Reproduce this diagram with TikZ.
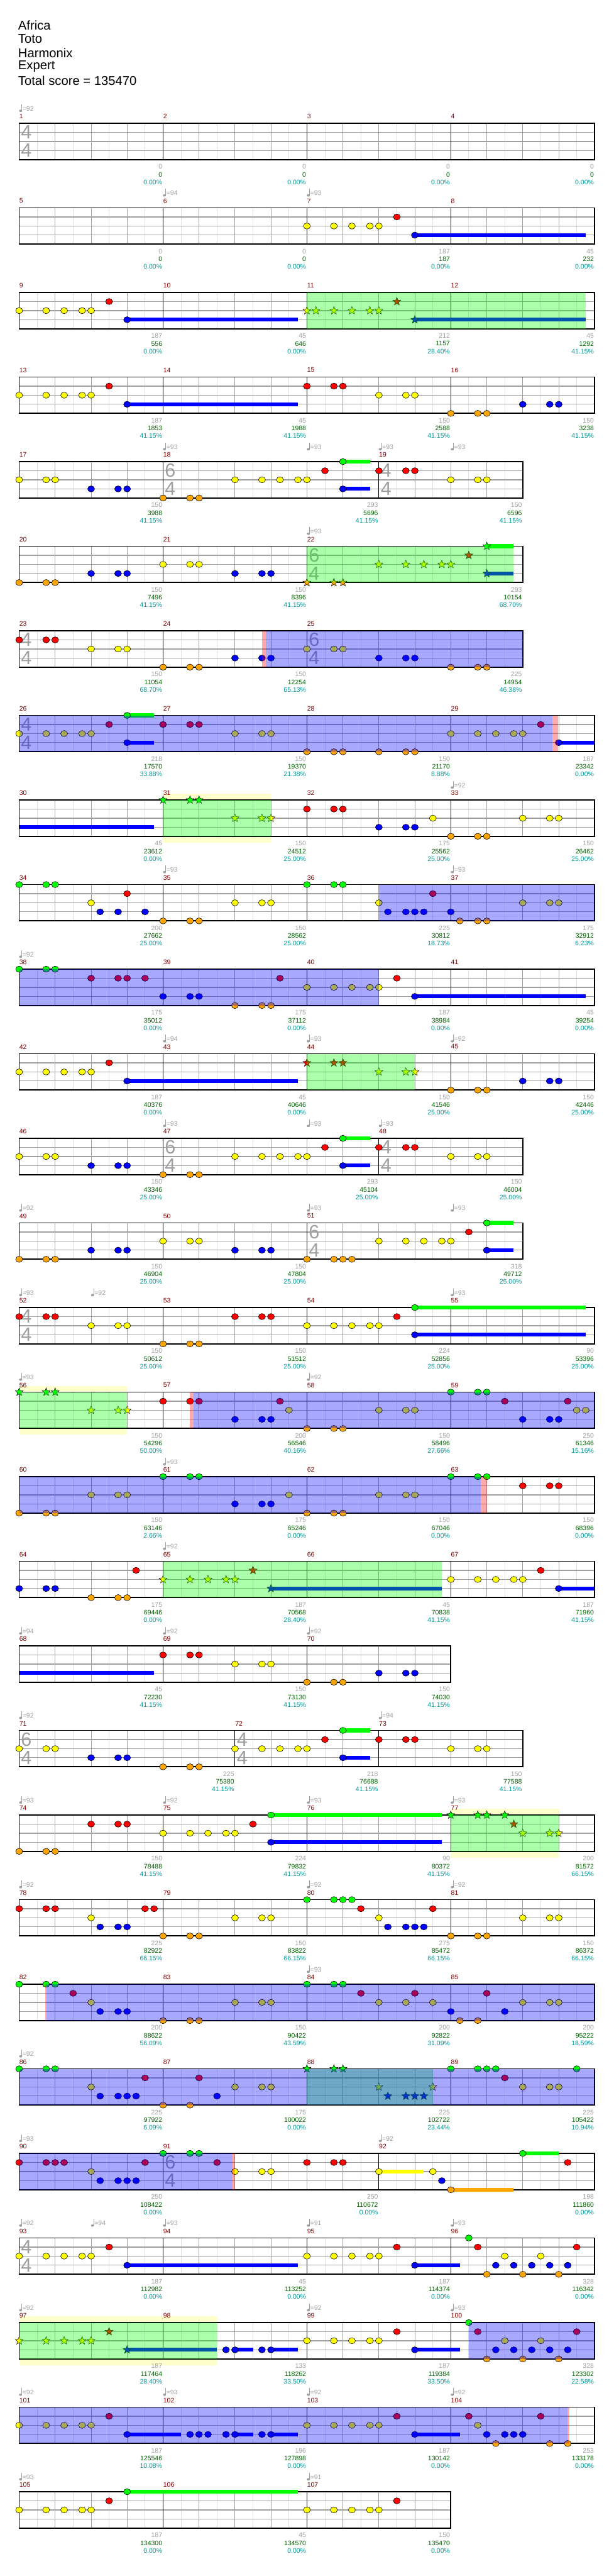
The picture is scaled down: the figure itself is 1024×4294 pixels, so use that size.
\documentclass[tikz,border=0pt]{standalone}
\usepackage{fontspec}
\setmainfont{Liberation Sans}
\usetikzlibrary{shapes.geometric}
\definecolor{gem0}{HTML}{00FF00}
\definecolor{gem1}{HTML}{FF0000}
\definecolor{gem2}{HTML}{FFFF00}
\definecolor{gem3}{HTML}{0000FF}
\definecolor{gem4}{HTML}{FFA500}
\definecolor{barred}{HTML}{800000}
\definecolor{softgray}{HTML}{A0A0A0}
\definecolor{gridlight}{HTML}{E0E0E0}
\definecolor{scoregreen}{HTML}{006400}
\definecolor{pctteal}{HTML}{009999}
\definecolor{soloyellow}{HTML}{FFFFCC}

\newcommand\smallfont{\fontsize{5.5pt}{6pt}\selectfont}

% staff with grid, bar lines and measure numbers
\newcommand\staff[2]{%
  \fill[white] (0,0) rectangle (#1,4);
  \pgfmathtruncatemacro\wlast{#1-1}
  \foreach \i in {0,...,\wlast} \draw[halfline] (\i+0.5,0) -- (\i+0.5,4);
  \foreach \i in {1,...,\wlast} \draw[beatline] (\i,0) -- (\i,4);
  \foreach \kk in {1,2,3} \draw[laneline] (0,\kk) -- (#1,\kk);
  \foreach \xb/\mn in {#2} {
    \draw[barline] (\xb,0) -- (\xb,4);
    \node[mnum] at (\xb,-0.77) {\mn};
  }
  \draw[border] (0,0) rectangle (#1,4);
}
\newcommand\tsig[2]{%
  \node[tsnum] at ([xshift=6pt]#1,1) {#2};
  \node[tsnum] at ([xshift=6pt]#1,3) {4};
}
\newcommand\tempo[1]{\foreach \xb/\tv in {#1} {
  \fill[softgray] ([xshift=1.2pt]\xb,-1.37) ellipse (1.3pt and 1pt);
  \draw[softgray,line width=0.5pt] ([xshift=2.3pt]\xb,-1.37) -- ([xshift=2.3pt]\xb,-2.09);
  \node[tempotxt] at ([xshift=2.6pt]\xb,-1.63) {=\tv};
}}
\newcommand\scores[1]{\foreach \mend/\sgr/\stot/\spc in {#1} {
  \node[sgray] at (\mend,4.77) {\sgr};
  \node[sgreen] at (\mend,5.63) {\stot};
  \node[spct] at (\mend,6.49) {\spc\%};
}}
\newcommand\gems[2]{\foreach \xb in {#2} \node[gem,fill=gem#1] at (\xb,#1) {};}
\newcommand\stars[2]{\foreach \xb in {#2} \node[starnote,fill=gem#1] at (\xb,#1) {};}
\newcommand\sus[3]{\fill[gem#1] (#2,#1-0.21) rectangle (#3,#1+0.21);}
\newcommand\spphrase[2]{\fill[spgreen] (#1,0) rectangle (#2,4);}
\newcommand\spact[2]{\fill[spblue] (#1,0) rectangle (#2,4);}
\newcommand\spedge[2]{\fill[sppink] (#1,0) rectangle (#2,4);}
\newcommand\solo[2]{\fill[soloyellow] (#1,-0.66) rectangle (#2,4.7);}

\begin{document}
\begin{tikzpicture}[
		x=0.5pt,
		y=-0.5pt,
		chartrow/.style={shift={(32,205.5+141*(#1-1))},x=30pt,y=-7.575pt},
		gem/.style={ellipse,draw=black,line width=0.3pt,inner sep=0pt,minimum width=5.8pt,minimum height=5.1pt},
		starnote/.style={star,star points=5,star point ratio=2.3,draw=black,line width=0.25pt,inner sep=0pt,minimum size=7pt},
		halfline/.style={draw=gridlight,line width=0.5pt},
		beatline/.style={draw=softgray,line width=0.5pt},
		laneline/.style={draw=softgray,line width=0.6pt},
		barline/.style={draw=black,line width=0.5pt},
		border/.style={draw=black,line width=1pt},
		mnum/.style={anchor=west,inner sep=0pt,text=barred,font=\smallfont},
		tempotxt/.style={anchor=west,inner sep=0pt,text=softgray,font=\smallfont},
		tsnum/.style={inner sep=0pt,text=softgray,font=\fontsize{16pt}{16pt}\selectfont},
		sgray/.style={anchor=east,inner sep=0pt,xshift=-0.5pt,text=softgray,font=\smallfont},
		sgreen/.style={anchor=east,inner sep=0pt,xshift=-0.5pt,text=scoregreen,font=\smallfont},
		spct/.style={anchor=east,inner sep=0pt,xshift=-0.5pt,text=pctteal,font=\smallfont},
		spgreen/.style={fill=gem0,fill opacity=0.33},
		spblue/.style={fill=gem3,fill opacity=0.34},
		sppink/.style={fill=gem1,fill opacity=0.33},
		titletxt/.style={anchor=west,inner sep=0pt,font=\fontsize{10.6pt}{12pt}\selectfont}
	]
	
	% Page
	\useasboundingbox (0,0) rectangle (1024,4294);
	\fill[white] (0,0) rectangle (1024,4294);
	
	% Header
	\node[titletxt] (song) at (30,41.7) {Africa};
	\node[titletxt] (artist) at (30,65) {Toto};
	\node[titletxt] (charter) at (30,88) {Harmonix};
	\node[titletxt] (level) at (30,111) {Expert};
	\node[titletxt] (total) at (30,134) {Total score = 135470};
	
	% Row 1: measures 1-4
	\begin{scope}[chartrow=1]
		\staff{16}{0/1,4/2,8/3,12/4}
		\tsig{0}{4}
		\tempo{0/92}
		\scores{4/0/0/0.00,8/0/0/0.00,12/0/0/0.00,16/0/0/0.00}
	\end{scope}
	
	% Row 2: measures 5-8
	\begin{scope}[chartrow=2]
		\staff{16}{0/5,4/6,8/7,12/8}
		\tempo{4/94,8/93}
		\sus{3}{11}{15.75}
		\gems{2}{8,8.75,9.25,9.75,10}
		\gems{1}{10.5}
		\gems{3}{11}
		\scores{4/0/0/0.00,8/0/0/0.00,12/187/187/0.00,16/45/232/0.00}
	\end{scope}
	
	% Row 3: measures 9-12
	\begin{scope}[chartrow=3]
		\staff{16}{0/9,4/10,8/11,12/12}
		\sus{3}{3}{7.75}
		\gems{2}{0,0.75,1.25,1.75,2}
		\gems{1}{2.5}
		\gems{3}{3}
		\sus{3}{11}{15.75}
		\stars{2}{8,8.25,8.75,9.25,9.75,10}
		\stars{1}{10.5}
		\stars{3}{11}
		\spphrase{8}{15.75}
		\scores{4/187/556/0.00,8/45/646/0.00,12/212/1157/28.40,16/45/1292/41.15}
	\end{scope}
	
	% Row 4: measures 13-16
	\begin{scope}[chartrow=4]
		\staff{16}{0/13,4/14,8/15,12/16}
		\sus{3}{3}{7.75}
		\gems{2}{0,0.75,1.25,1.75,2,10,10.75,11}
		\gems{1}{2.5,8,8.75,9}
		\gems{3}{3,14,14.75,15}
		\gems{4}{12,12.75,13}
		\scores{4/187/1853/41.15,8/45/1988/41.15,12/150/2588/41.15,16/150/3238/41.15}
	\end{scope}
	
	% Row 5: measures 17-19
	\begin{scope}[chartrow=5]
		\staff{14}{0/17,4/18,10/19}
		\tsig{4}{6}\tsig{10}{4}
		\tempo{4/93,8/93,10/93,12/93}
		\sus{0}{9}{9.75}\sus{3}{9}{9.75}
		\gems{2}{0,0.75,1,6,6.75,7.25,7.75,8,12,12.75,13}
		\gems{3}{2,2.75,3,9}
		\gems{4}{4,4.75,5}
		\gems{1}{8.5,10,10.75,11}
		\gems{0}{9}
		\scores{4/150/3988/41.15,10/293/5696/41.15,14/150/6596/41.15}
	\end{scope}
	
	% Row 6: measures 20-22
	\begin{scope}[chartrow=6]
		\staff{14}{0/20,4/21,8/22}
		\tsig{8}{6}
		\tempo{8/93}
		\gems{4}{0,0.75,1}
		\gems{3}{2,2.75,3,6,6.75,7}
		\gems{2}{4,4.75,5}
		\sus{0}{13}{13.75}\sus{3}{13}{13.75}
		\stars{4}{8,8.75,9}
		\stars{2}{10,10.75,11.25,11.75,12}
		\stars{1}{12.5}
		\stars{0}{13}\stars{3}{13}
		\spphrase{8}{13.75}
		\scores{4/150/7496/41.15,8/150/8396/41.15,14/293/10154/68.70}
	\end{scope}
	
	% Row 7: measures 23-25
	\begin{scope}[chartrow=7]
		\staff{14}{0/23,4/24,8/25}
		\tsig{0}{4}\tsig{8}{6}
		\gems{1}{0,0.75,1}
		\gems{2}{2,2.75,3,8,8.75,9}
		\gems{4}{4,4.75,5,12,12.75,13}
		\gems{3}{6,6.75,7,10,10.75,11}
		\spedge{6.75}{6.85}\spact{6.85}{14}
		\scores{4/150/11054/68.70,8/150/12254/65.13,14/225/14954/46.38}
	\end{scope}
	
	% Row 8: measures 26-29
	\begin{scope}[chartrow=8]
		\staff{16}{0/26,4/27,8/28,12/29}
		\tsig{0}{4}
		\sus{0}{3}{3.75}\sus{3}{3}{3.75}\sus{3}{15}{16}
		\gems{2}{0,0.75,1.25,1.75,2,6,6.75,7,12,12.75,13.25,13.75,14}
		\gems{1}{2.5,4,4.75,5,14.5}
		\gems{0}{3}
		\gems{3}{3,15}
		\gems{4}{8,8.75,9,10,10.75,11}
		\spact{0}{14.82}\spedge{14.82}{14.98}
		\scores{4/218/17570/33.88,8/150/19370/21.38,12/150/21170/8.88,16/187/23342/0.00}
	\end{scope}
	
	% Row 9: measures 30-33
	\begin{scope}[chartrow=9]
		\solo{4}{7}
		\staff{16}{0/30,4/31,8/32,12/33}
		\tempo{12/92}
		\sus{3}{0}{3.75}
		\stars{0}{4,4.75,5}
		\stars{2}{6,6.75,7}
		\spphrase{4}{7}
		\gems{1}{8,8.75,9}
		\gems{3}{10,10.75,11}
		\gems{2}{11.5,14,14.75,15}
		\gems{4}{12,12.75,13}
		\scores{4/45/23612/0.00,8/150/24512/25.00,12/175/25562/25.00,16/150/26462/25.00}
	\end{scope}
	
	% Row 10: measures 34-37
	\begin{scope}[chartrow=10]
		\staff{16}{0/34,4/35,8/36,12/37}
		\tempo{4/93,12/93}
		\gems{0}{0,0.75,1,8,8.75,9}
		\gems{2}{2,6,6.75,7,10,14,14.75,15}
		\gems{3}{2.25,2.75,3.5,10.25,10.75,11,11.25,12}
		\gems{1}{3,11.5}
		\gems{4}{4,4.75,5,12.25,12.75,13}
		\spact{10}{16}
		\scores{4/200/27662/25.00,8/150/28562/25.00,12/225/30812/18.73,16/175/32912/6.23}
	\end{scope}
	
	% Row 11: measures 38-41
	\begin{scope}[chartrow=11]
		\staff{16}{0/38,4/39,8/40,12/41}
		\tempo{0/92}
		\sus{3}{11}{15.75}
		\gems{0}{0,0.75,1}
		\gems{1}{2,2.75,3,3.5,7.25,10.5}
		\gems{3}{4,4.75,5,11}
		\gems{4}{6,6.75,7}
		\gems{2}{8,8.75,9.25,9.75,10}
		\spact{0}{10}
		\scores{4/175/35012/0.00,8/175/37112/0.00,12/187/38984/0.00,16/45/39254/0.00}
	\end{scope}
	
	% Row 12: measures 42-45
	\begin{scope}[chartrow=12]
		\staff{16}{0/42,4/43,8/44,12/45}
		\tempo{4/94,8/93,12/92}
		\sus{3}{3}{7.75}
		\gems{2}{0,0.75,1.25,1.75,2}
		\gems{1}{2.5}
		\gems{3}{3,14,14.75,15}
		\stars{1}{8,8.75,9}
		\stars{2}{10,10.75,11}
		\spphrase{8}{11}
		\gems{4}{12,12.75,13}
		\scores{4/187/40376/0.00,8/45/40646/0.00,12/150/41546/25.00,16/150/42446/25.00}
	\end{scope}
	
	% Row 13: measures 46-48
	\begin{scope}[chartrow=13]
		\staff{14}{0/46,4/47,10/48}
		\tsig{4}{6}\tsig{10}{4}
		\tempo{4/93,8/93,10/93}
		\sus{0}{9}{9.75}\sus{3}{9}{9.75}
		\gems{2}{0,0.75,1,6,6.75,7.25,7.75,8,12,12.75,13}
		\gems{3}{2,2.75,3,9}
		\gems{4}{4,4.75,5}
		\gems{1}{8.5,10,10.75,11}
		\gems{0}{9}
		\scores{4/150/43346/25.00,10/293/45104/25.00,14/150/46004/25.00}
	\end{scope}
	
	% Row 14: measures 49-51
	\begin{scope}[chartrow=14]
		\staff{14}{0/49,4/50,8/51}
		\tsig{8}{6}
		\tempo{0/92,8/93,12/93}
		\sus{0}{13}{13.75}\sus{3}{13}{13.75}
		\gems{4}{0,0.75,1,8,8.75,9,9.25}
		\gems{3}{2,2.75,3,6,6.75,7,13}
		\gems{2}{4,4.75,5,10,10.75,11.25,11.75,12}
		\gems{1}{12.5}
		\gems{0}{13}
		\scores{4/150/46904/25.00,8/150/47804/25.00,14/318/49712/25.00}
	\end{scope}
	
	% Row 15: measures 52-55
	\begin{scope}[chartrow=15]
		\staff{16}{0/52,4/53,8/54,12/55}
		\tsig{0}{4}
		\tempo{0/93,2/92,12/93}
		\sus{0}{11}{15.75}\sus{3}{11}{15.75}
		\gems{1}{0,0.75,1,6,6.75,7,10.5}
		\gems{2}{2,2.75,3,8,8.75,9.25,9.75,10}
		\gems{4}{4,4.75,5}
		\gems{0}{11}\gems{3}{11}
		\scores{4/150/50612/25.00,8/150/51512/25.00,12/224/52856/25.00,16/90/53396/25.00}
	\end{scope}
	
	% Row 16: measures 56-59
	\begin{scope}[chartrow=16]
		\solo{0}{3}
		\staff{16}{0/56,4/57,8/58,12/59}
		\tempo{0/93,8/92}
		\stars{0}{0,0.75,1}
		\stars{2}{2,2.75,3}
		\spphrase{0}{3}
		\gems{1}{4,4.75,5,7.25,13.5,15.25}
		\gems{3}{6,6.75,7,14,14.75,15}
		\gems{2}{7.5,10,10.75,11,15.5,15.75}
		\gems{4}{8,8.75,9}
		\gems{0}{12,12.75,13}
		\spedge{4.75}{4.85}\spact{4.85}{16}
		\scores{4/150/54296/50.00,8/200/56546/40.16,12/150/58496/27.66,16/250/61346/15.16}
	\end{scope}
	
	% Row 17: measures 60-63
	\begin{scope}[chartrow=17]
		\staff{16}{0/60,4/61,8/62,12/63}
		\tempo{4/93}
		\gems{4}{0,0.75,1,8,8.75,9}
		\gems{2}{2,2.75,3,7.5,10,10.75,11}
		\gems{0}{4,4.75,5,12,12.75,13}
		\gems{3}{6,6.75,7}
		\gems{1}{14,14.75,15}
		\spact{0}{12.84}\spedge{12.84}{13}
		\scores{4/150/63146/2.66,8/175/65246/0.00,12/150/67046/0.00,16/150/68396/0.00}
	\end{scope}
	
	% Row 18: measures 64-67
	\begin{scope}[chartrow=18]
		\staff{16}{0/64,4/65,8/66,12/67}
		\tempo{4/92}
		\gems{3}{0,0.75,1}
		\gems{4}{2,2.75,3}
		\gems{1}{3.25}
		\sus{3}{7}{11.75}
		\stars{2}{4,4.75,5.25,5.75,6}
		\stars{1}{6.5}
		\stars{3}{7}
		\spphrase{4}{11.75}
		\sus{3}{15}{16}
		\gems{2}{12,12.75,13.25,13.75,14}
		\gems{1}{14.5}
		\gems{3}{15}
		\scores{4/175/69446/0.00,8/187/70568/28.40,12/45/70838/41.15,16/187/71960/41.15}
	\end{scope}
	
	% Row 19: measures 68-70
	\begin{scope}[chartrow=19]
		\staff{12}{0/68,4/69,8/70}
		\tempo{0/94,4/92,8/92}
		\sus{3}{0}{3.75}
		\gems{1}{4,4.75,5}
		\gems{2}{6,6.75,7}
		\gems{4}{8,8.75,9}
		\gems{3}{10,10.75,11}
		\scores{4/45/72230/41.15,8/150/73130/41.15,12/150/74030/41.15}
	\end{scope}
	
	% Row 20: measures 71-73
	\begin{scope}[chartrow=20]
		\staff{14}{0/71,6/72,10/73}
		\tsig{0}{6}\tsig{6}{4}
		\tempo{0/92,10/94}
		\sus{0}{9}{9.75}\sus{3}{9}{9.75}
		\gems{2}{0,0.75,1,6,6.75,7.25,7.75,8,12,12.75,13}
		\gems{3}{2,2.75,3,9}
		\gems{4}{4,4.75,5}
		\gems{1}{8.5,10,10.75,11}
		\gems{0}{9}
		\scores{6/225/75380/41.15,10/218/76688/41.15,14/150/77588/41.15}
	\end{scope}
	
	% Row 21: measures 74-77
	\begin{scope}[chartrow=21]
		\solo{12}{15}
		\staff{16}{0/74,4/75,8/76,12/77}
		\tempo{0/93,4/92,8/93,12/93}
		\sus{0}{7}{11.75}\sus{3}{7}{11.75}
		\gems{4}{0,0.75,1}
		\gems{1}{2,2.75,3,6.5}
		\gems{2}{4,4.75,5.25,5.75,6}
		\gems{0}{7}\gems{3}{7}
		\stars{0}{12,12.75,13,13.5}
		\stars{1}{13.75}
		\stars{2}{14,14.75,15}
		\spphrase{12}{15}
		\scores{4/150/78488/41.15,8/224/79832/41.15,12/90/80372/41.15,16/200/81572/66.15}
	\end{scope}
	
	% Row 22: measures 78-81
	\begin{scope}[chartrow=22]
		\staff{16}{0/78,4/79,8/80,12/81}
		\tempo{0/92,8/92,12/92}
		\gems{1}{0,0.75,1,3.5,3.75,9.5,11.5}
		\gems{2}{2,6,6.75,7,10,14,14.75,15}
		\gems{3}{2.25,2.75,3,10.25,10.75,11,11.25}
		\gems{4}{4,4.75,5,12,12.75,13}
		\gems{0}{8,8.75,9,9.25}
		\scores{4/225/82922/66.15,8/150/83822/66.15,12/275/85472/66.15,16/150/86372/66.15}
	\end{scope}
	
	% Row 23: measures 82-85
	\begin{scope}[chartrow=23]
		\staff{16}{0/82,4/83,8/84,12/85}
		\tempo{8/93}
		\gems{0}{0,0.75,1,8,8.75,9}
		\gems{1}{1.5,9.5,11,13}
		\gems{2}{2,6,6.75,7,10,10.75,11.5,14,14.75,15}
		\gems{3}{2.25,2.75,3,12,13.5}
		\gems{4}{4,4.75,5,12.25,12.75}
		\spedge{0.72}{0.76}\spact{0.76}{16}
		\scores{4/200/88622/56.09,8/150/90422/43.59,12/200/92822/31.09,16/200/95222/18.59}
	\end{scope}
	
	% Row 24: measures 86-89
	\begin{scope}[chartrow=24]
		\staff{16}{0/86,4/87,8/88,12/89}
		\tempo{0/92}
		\gems{0}{0,0.75,1,12,12.75,13,13.25,15.5}
		\gems{2}{2,6,6.75,7,14,14.75,15}
		\gems{3}{2.25,2.75,3,3.25,5.5}
		\gems{1}{3.5,5,13.5}
		\gems{4}{4,4.75}
		\stars{0}{8,8.75,9}
		\stars{2}{10,11.5}
		\stars{3}{10.25,10.75,11,11.25}
		\spphrase{8}{11.5}
		\spact{0}{16}
		\scores{4/225/97922/6.09,8/175/100022/0.00,12/225/102722/23.44,16/225/105422/10.94}
	\end{scope}
	
	% Row 25: measures 90-92
	\begin{scope}[chartrow=25]
		\staff{16}{0/90,4/91,10/92}
		\tsig{4}{6}
		\tempo{0/93,10/92}
		\sus{2}{10}{11.25}\sus{4}{12}{13.75}\sus{0}{14}{15}
		\gems{1}{0,0.75,1,1.25,3.5,5.5,8,8.75,9,15.25}
		\gems{2}{2,6,6.75,7,10,11.5}
		\gems{3}{2.25,2.75,3,3.25,11.75}
		\gems{0}{4,4.75,5,14}
		\gems{4}{12}
		\spact{0}{5.93}\spedge{5.93}{6}
		\scores{4/250/108422/0.00,10/250/110672/0.00,16/198/111860/0.00}
	\end{scope}
	
	% Row 26: measures 93-96
	\begin{scope}[chartrow=26]
		\staff{16}{0/93,4/94,8/95,12/96}
		\tsig{0}{4}
		\tempo{0/92,2/94,4/93,8/91,12/93}
		\sus{3}{3}{7.75}\sus{3}{11}{12.25}
		\gems{2}{0,0.75,1.25,1.75,2,8,8.75,9.25,9.75,10,13.5,14.5}
		\gems{1}{2.5,10.5,12.75,15.5}
		\gems{3}{3,11,13.25,13.75,14.25,14.75,15.25}
		\gems{0}{12.5}
		\gems{4}{13,14,15}
		\scores{4/187/112982/0.00,8/45/113252/0.00,12/187/114374/0.00,16/328/116342/0.00}
	\end{scope}
	
	% Row 27: measures 97-100
	\begin{scope}[chartrow=27]
		\solo{0}{5.5}
		\staff{16}{0/97,4/98,8/99,12/100}
		\tempo{0/92,8/92,12/93}
		\sus{3}{3}{5.5}
		\stars{2}{0,0.75,1.25,1.75,2}
		\stars{1}{2.5}
		\stars{3}{3}
		\spphrase{0}{5.5}
		\sus{3}{6}{6.5}\sus{3}{7}{7.75}\sus{3}{11}{12.25}
		\gems{3}{5.75,6,6.75,7,11,13.25,13.75,14.25,14.75,15.25}
		\gems{2}{8,8.75,9.25,9.75,10,13.5,14.5}
		\gems{1}{10.5,12.75,15.5}
		\gems{0}{12.5}
		\gems{4}{13,14,15}
		\spact{12.5}{16}
		\scores{4/187/117464/28.40,8/133/118262/33.50,12/187/119384/33.50,16/328/123302/22.58}
	\end{scope}
	
	% Row 28: measures 101-104
	\begin{scope}[chartrow=28]
		\staff{16}{0/101,4/102,8/103,12/104}
		\tempo{0/92,4/93,8/92,12/92}
		\sus{3}{3}{4.5}\sus{3}{6}{6.5}\sus{3}{7}{7.75}\sus{3}{11}{12.25}
		\gems{2}{0,0.75,1.25,1.75,2,8,8.75,9.25,9.75,10,12.75}
		\gems{1}{2.5,10.5,12.5,14.5}
		\gems{3}{3,4.75,5,5.25,5.75,6,6.75,7,11,13,13.5,13.75,14}
		\gems{4}{13.25,14.75,15.25}
		\spact{0}{15.25}\spedge{15.25}{15.3}
		\scores{4/187/125546/10.08,8/196/127898/0.00,12/187/130142/0.00,16/253/133178/0.00}
	\end{scope}
	
	% Row 29: measures 105-107
	\begin{scope}[chartrow=29]
		\staff{12}{0/105,4/106,8/107}
		\tempo{0/93,8/91}
		\sus{0}{3}{7.75}
		\gems{2}{0,0.75,1.25,1.75,2,8,8.75,9.25,9.75,10}
		\gems{1}{2.5,10.5}
		\gems{0}{3}
		\scores{4/187/134300/0.00,8/45/134570/0.00,12/150/135470/0.00}
	\end{scope}
	
\end{tikzpicture}
\end{document}
